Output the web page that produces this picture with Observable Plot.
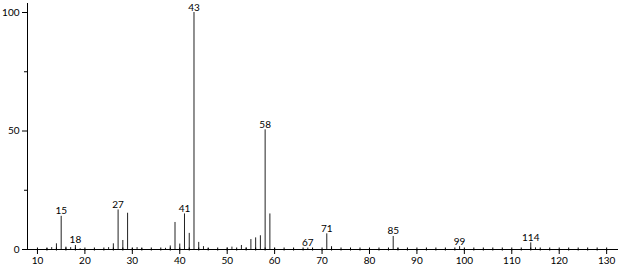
<!DOCTYPE html>
<html>
<head>
<meta charset="utf-8">
<script src="https://cdn.jsdelivr.net/npm/d3@7"></script>
<script src="https://cdn.jsdelivr.net/npm/@observablehq/plot@0.6"></script>
<style>
  html, body { margin: 0; padding: 0; background: #fff; }
  #chart svg { display: block; }
</style>
</head>
<body>
<div id="chart"></div>
<script>
// m/z values and relative intensities (%)
const mzValues = [12, 13, 14, 15, 16, 17, 18, 19, 25, 26, 27, 28, 29, 30, 31, 32,
  37, 38, 39, 40, 41, 42, 43, 44, 45, 46, 50, 51, 53, 54, 55, 56, 57, 58, 59, 60,
  67, 71, 72, 85, 86, 99, 114, 115];
const intensities = [0.4, 0.8, 2.4, 14, 1.0, 0.8, 1.7, 0.3, 0.8, 2.4, 16.7, 3.8, 15.3, 0.5, 0.8, 0.4,
  0.5, 1.5, 11.4, 2.3, 15, 6.8, 100, 3.0, 1.2, 0.4, 0.6, 1.0, 1.7, 0.6, 4.2, 4.9, 5.8, 50.5, 15, 0.5,
  0.6, 6.6, 1.2, 5.5, 0.5, 1.2, 2.8, 0.7];
const labeledMz = [15, 18, 27, 41, 43, 58, 67, 71, 85, 99, 114];
const xMajorTicks = [10, 20, 30, 40, 50, 60, 70, 80, 90, 100, 110, 120, 130];
const xMinorTicks = d3.range(10, 131, 2);
const yMajorTicks = [0, 50, 100];
const yMinorTicks = [25, 75];

const peaks = mzValues.map((mz, i) => ({mz, i: intensities[i]}));
const labeled = peaks.filter(d => labeledMz.includes(d.mz));
const xDomain = [7.9, 132.5];
const yDomain = [0, 103.8];

const chart = Plot.plot({
  width: 620,
  height: 266,
  marginLeft: 27,
  marginRight: 2,
  marginTop: 3,
  marginBottom: 17,
  style: {fontFamily: "Lato, 'DejaVu Sans', sans-serif", fontSize: "10px", color: "#000", background: "#fff"},
  x: {domain: xDomain},
  y: {domain: yDomain},
  marks: [
    Plot.ruleX(peaks, {x: "mz", y1: 0, y2: "i", stroke: "#222", strokeWidth: 1}),
    Plot.text(labeled, {x: "mz", y: "i", text: d => String(d.mz), lineAnchor: "bottom", dy: -2, fill: "#000", fontSize: 10}),
    Plot.ruleY([0], {stroke: "#000"}),
    Plot.ruleX([xDomain[0]], {y1: yDomain[0], y2: yDomain[1], stroke: "#000"}),
    Plot.axisX({ticks: xMajorTicks, tickSize: 5, tickPadding: 2, label: null, tickFormat: d => String(d)}),
    Plot.axisX({ticks: xMinorTicks, tickSize: 3, dy: -1.5, text: null, label: null}),
    Plot.axisY({ticks: yMajorTicks, tickSize: 5, tickPadding: 3, label: null, tickFormat: d => String(d)}),
    Plot.axisY({ticks: yMinorTicks, tickSize: 3, text: null, label: null})
  ]
});
document.getElementById("chart").appendChild(chart);
</script>
</body>
</html>
